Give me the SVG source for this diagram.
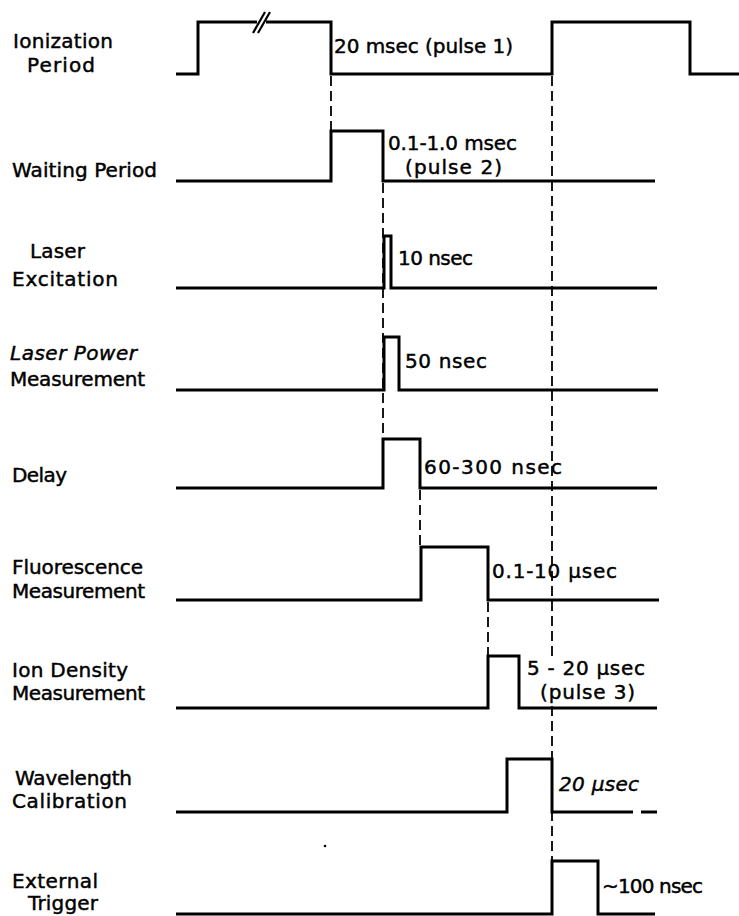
<svg xmlns="http://www.w3.org/2000/svg" width="739" height="916" viewBox="0 0 739 916">
<style>
  .bg { fill: #ffffff; }
  .sig { fill: none; stroke: #000; stroke-width: 3; stroke-linejoin: miter; stroke-linecap: butt; }
  .dash { fill: none; stroke: #000; stroke-width: 1.8; stroke-dasharray: 10 5; }
  .brk { fill: none; stroke: #000; stroke-width: 2.2; }
  text { font-family: "DejaVu Sans", "Liberation Sans", sans-serif; font-size: 20px; fill: #000; stroke: #000; stroke-width: 0.45; }
  .it { font-style: italic; }
</style>
<rect class="bg" x="0" y="0" width="739" height="916"/>

<g id="connectors">
  <line class="dash" x1="331" y1="76" x2="331" y2="131"/>
  <line class="dash" x1="383" y1="183" x2="383" y2="439"/>
  <line class="dash" x1="420" y1="490" x2="420" y2="547"/>
  <line class="dash" x1="488" y1="602" x2="488" y2="656"/>
  <line class="dash" x1="552" y1="76" x2="552" y2="657"/>
  <line class="dash" x1="552" y1="706" x2="552" y2="861"/>
</g>

<g id="ionization">
  <text x="13" y="48" textLength="100" lengthAdjust="spacing">Ionization</text>
  <text x="27" y="72" textLength="68" lengthAdjust="spacing">Period</text>
  <polyline class="sig" points="176,74 198,74 198,22 257,22"/>
  <polyline class="sig" points="266,22 331,22 331,74 552,74 552,22 690,22 690,74 739,74"/>
  <line class="brk" x1="253" y1="33" x2="265" y2="12"/>
  <line class="brk" x1="258" y1="33" x2="270" y2="12"/>
  <text x="334" y="53" textLength="179" lengthAdjust="spacing">20 msec (pulse 1)</text>
</g>

<g id="waiting">
  <text x="12" y="177" textLength="145" lengthAdjust="spacing">Waiting Period</text>
  <polyline class="sig" points="176,181 331,181 331,131 383,131 383,181 655,181"/>
  <text x="388" y="150" textLength="129" lengthAdjust="spacing">0.1-1.0 msec</text>
  <text x="405" y="174" textLength="97" lengthAdjust="spacing">(pulse 2)</text>
</g>

<g id="laser-excitation">
  <text x="30" y="258" textLength="55" lengthAdjust="spacing">Laser</text>
  <text x="12" y="286" textLength="106" lengthAdjust="spacing">Excitation</text>
  <polyline class="sig" points="176,288 384,288 384,236 391,236 391,288 657,288"/>
  <text x="398" y="265" textLength="75" lengthAdjust="spacing">10 nsec</text>
</g>

<g id="laser-power">
  <text class="it" x="10" y="360" textLength="127" lengthAdjust="spacing">Laser Power</text>
  <text x="10" y="386" textLength="135" lengthAdjust="spacing">Measurement</text>
  <polyline class="sig" points="176,390 384,390 384,337 399,337 399,390 658,390"/>
  <text x="405" y="368" textLength="82" lengthAdjust="spacing">50 nsec</text>
</g>

<g id="delay">
  <text x="12" y="482" textLength="55" lengthAdjust="spacing">Delay</text>
  <polyline class="sig" points="176,488 383,488 383,439 420,439 420,488 657,488"/>
  <text x="424" y="474" textLength="138" lengthAdjust="spacing">60-300 nsec</text>
</g>

<g id="fluorescence">
  <text x="12" y="574" textLength="131" lengthAdjust="spacing">Fluorescence</text>
  <text x="12" y="598" textLength="133" lengthAdjust="spacing">Measurement</text>
  <polyline class="sig" points="176,600 421,600 421,547 488,547 488,600 659,600"/>
  <text x="492" y="578" textLength="125" lengthAdjust="spacing">0.1-10 µsec</text>
</g>

<g id="ion-density">
  <text x="12" y="677" textLength="116" lengthAdjust="spacing">Ion Density</text>
  <text x="12" y="700" textLength="133" lengthAdjust="spacing">Measurement</text>
  <polyline class="sig" points="176,708 488,708 488,656 519,656 519,708 657,708"/>
  <text x="527" y="675" textLength="118" lengthAdjust="spacing">5 - 20 µsec</text>
  <text x="540" y="699" textLength="95" lengthAdjust="spacing">(pulse 3)</text>
</g>

<g id="wavelength">
  <text x="15" y="785" textLength="117" lengthAdjust="spacing">Wavelength</text>
  <text x="12" y="808" textLength="115" lengthAdjust="spacing">Calibration</text>
  <polyline class="sig" points="176,812 507,812 507,759 552,759 552,812 633,812"/>
  <line class="sig" x1="641" y1="812" x2="657" y2="812"/>
  <text class="it" x="559" y="791" textLength="80" lengthAdjust="spacing">20 µsec</text>
</g>

<g id="external-trigger">
  <text x="12" y="888" textLength="86" lengthAdjust="spacing">External</text>
  <text x="28" y="910" textLength="70" lengthAdjust="spacing">Trigger</text>
  <polyline class="sig" points="176,914 552,914 552,861 598,861 598,914 655,914"/>
  <text x="602" y="893" textLength="101" lengthAdjust="spacing">~100 nsec</text>
</g>

<circle cx="325" cy="846" r="1.3" fill="#000"/>
</svg>
